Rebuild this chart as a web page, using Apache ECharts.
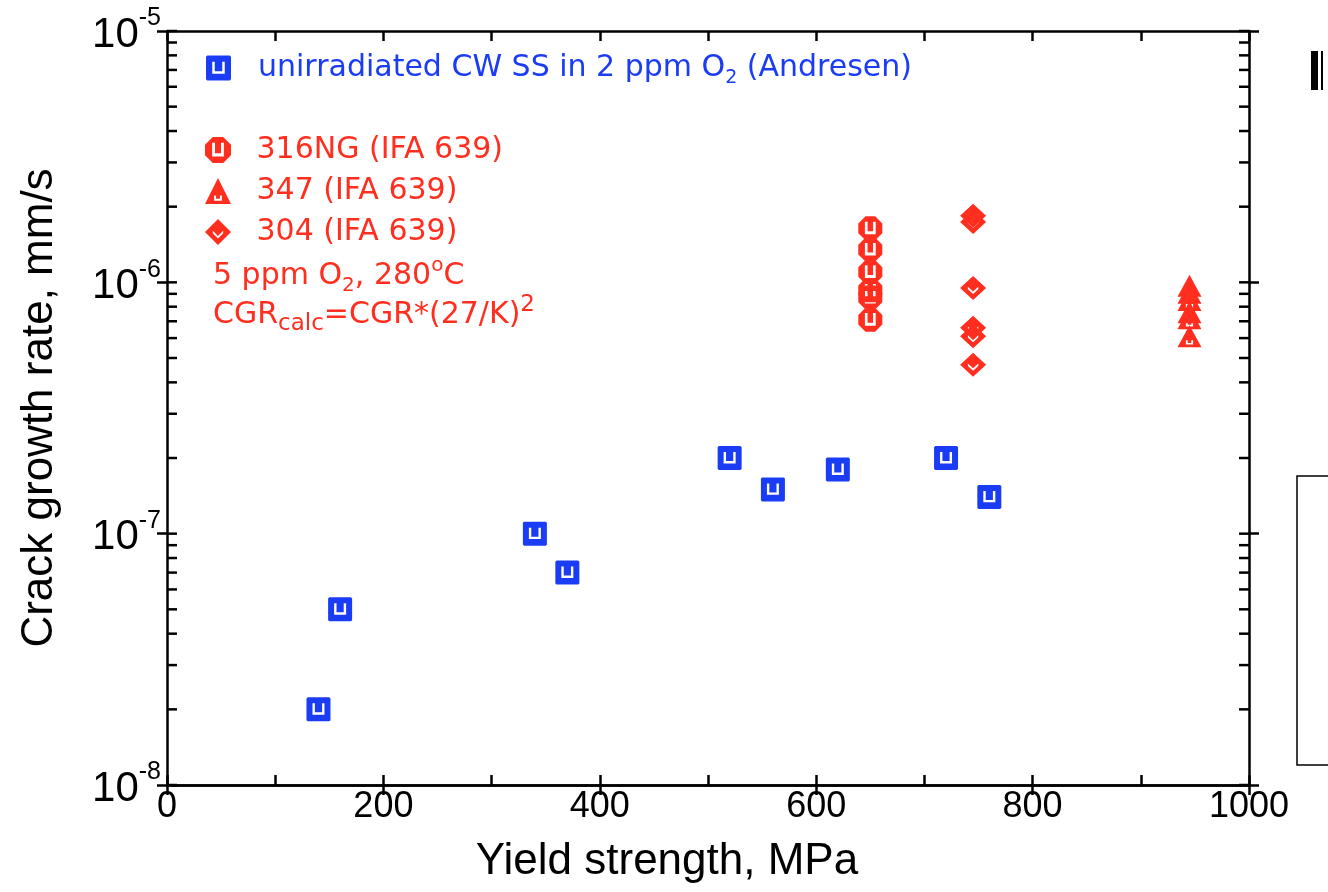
<!DOCTYPE html>
<html><head><meta charset="utf-8">
<script src="https://cdn.jsdelivr.net/npm/echarts@6/dist/echarts.min.js"></script>
<style>html,body{margin:0;padding:0;background:#fff}#c{width:1328px;height:892px}</style>
</head><body><div id="c"></div>
<script>
// ---------- data ----------
const seriesNames = ['unirradiated CW SS in 2 ppm O2 (Andresen)', '316NG (IFA 639)', '347 (IFA 639)', '304 (IFA 639)'];
const cwX = [140, 160, 340, 370, 520, 560, 620, 720, 760];
const cwY = [2.0e-8, 5.0e-8, 1.0e-7, 7.0e-8, 2.0e-7, 1.5e-7, 1.8e-7, 2.0e-7, 1.4e-7];
const ng316X = [650, 650, 650, 650, 650, 650];
const ng316Y = [1.64e-6, 1.35e-6, 1.10e-6, 9.3e-7, 8.7e-7, 7.1e-7];
const ss347X = [945, 945, 945, 945, 945, 945];
const ss347Y = [9.7e-7, 9.1e-7, 8.5e-7, 7.6e-7, 7.2e-7, 6.1e-7];
const ss304X = [745, 745, 745, 745, 745, 745];
const ss304Y = [1.84e-6, 1.74e-6, 9.5e-7, 6.6e-7, 6.1e-7, 4.7e-7];
const xMin = 0, xMax = 1000, xInterval = 200;
const yMin = 1e-8, yMax = 1e-5;
const yDecades = [1e-8, 1e-7, 1e-6, 1e-5];
const yMinorMultipliers = [2, 3, 4, 5, 6, 7, 8, 9];
const xTitle = 'Yield strength, MPa';
const yTitle = 'Crack growth rate, mm/s';

// ---------- styling ----------
const BLUE = '#1a3cf5', RED = '#ff2e1f';
const SQ_U = 'path://M1 0L19 0L20 1L20 19L19 20L1 20L0 19L0 1Z M5 5L5 14.5L15 14.5L15 5L13 5L13 12.5L7 12.5L7 5Z';
const OCT_U = 'path://M6 0L14 0L20 6L20 14L14 20L6 20L0 14L0 6Z M5.5 4.5L5.5 15L14.5 15L14.5 4.5L12.3 4.5L12.3 12.5L7.7 12.5L7.7 4.5Z';
const TRI_U = 'path://M10 0L20 20L0 20Z M7 13.5L7 17.5L13 17.5L13 13.5L11.5 13.5L11.5 16L8.5 16L8.5 13.5Z';
const DIA_V = 'path://M10 0L20 10L10 20L0 10Z M6 11L10 15L14 11L14 9L10 13L6 9Z';

const innerTickVals = [];
yDecades.forEach(d => { innerTickVals.push(d); if (d < yMax) yMinorMultipliers.forEach(m => innerTickVals.push(m * d)); });

const LW = 2.5;
const axLine = {onZero: false, lineStyle: {color: '#000', width: LW}};
const tickLS = {color: '#000', width: LW};
const labelFont = 'Liberation Sans';
const legFont = 'DejaVu Sans';

function xAx(extra) {
  return Object.assign({type: 'value', min: xMin, max: xMax, interval: xInterval, splitLine: {show: false},
    axisLine: axLine, axisLabel: {show: false}}, extra);
}
function yAx(extra) {
  return Object.assign({type: 'log', logBase: 10, min: yMin, max: yMax, splitLine: {show: false},
    axisLine: axLine, axisLabel: {show: false}}, extra);
}

const chart = echarts.init(document.getElementById('c'));
chart.setOption({
  animation: false,
  backgroundColor: '#fff',
  grid: {left: 167, right: 79, top: 31, bottom: 107},
  xAxis: [
    xAx({position: 'bottom', axisTick: {show: true, inside: false, length: 10, lineStyle: tickLS},
      axisLabel: {show: true, fontSize: 36, fontFamily: labelFont, color: '#000', margin: 4, showMinLabel: true, showMaxLabel: true,
        formatter: v => String(v)},
      name: xTitle, nameLocation: 'middle', nameGap: 55,
      nameTextStyle: {fontSize: 44, fontFamily: labelFont, color: '#000', padding: [0, 82, 0, 0]}}),
    xAx({position: 'bottom', axisTick: {show: true, inside: true, length: 10, lineStyle: tickLS},
      minorTick: {show: true, splitNumber: 2, length: 10, lineStyle: tickLS}}),
    xAx({position: 'top', axisTick: {show: true, inside: true, length: 10, lineStyle: tickLS},
      minorTick: {show: true, splitNumber: 2, length: 10, lineStyle: tickLS}})
  ],
  yAxis: [
    yAx({position: 'left', axisTick: {show: true, inside: false, length: 10, lineStyle: tickLS},
      axisLabel: {show: true, margin: 6, showMinLabel: true, showMaxLabel: true,
        formatter: v => '{b|10}{s|' + Math.round(Math.log10(v)) + '}',
        rich: {b: {fontSize: 42, fontFamily: labelFont, color: '#000', lineHeight: 50, verticalAlign: 'bottom'},
               s: {fontSize: 25, fontFamily: labelFont, color: '#000', lineHeight: 50, verticalAlign: 'top'}}},
      name: yTitle, nameLocation: 'middle', nameGap: 105,
      nameTextStyle: {fontSize: 44, fontFamily: labelFont, color: '#000'}}),
    yAx({position: 'right', axisTick: {show: true, inside: false, length: 10, lineStyle: tickLS}})
  ],
  legend: [
    {data: [seriesNames[0]], left: 206, top: 53, padding: 0, itemWidth: 25, itemHeight: 25, selectedMode: false,
     formatter: () => '{g|}{t|unirradiated CW SS in 2 ppm O}{s|2}{t| (Andresen)}',
     textStyle: {rich: {
       g: {width: 22},
       t: {fontSize: 30, fontFamily: legFont, color: BLUE, lineHeight: 40, verticalAlign: 'middle'},
       s: {fontSize: 19, fontFamily: legFont, color: BLUE, lineHeight: 40, verticalAlign: 'bottom'}}}},
    {data: seriesNames.slice(1), orient: 'vertical', left: 205, top: 135, padding: 0, itemGap: 11,
     itemWidth: 27, itemHeight: 26, selectedMode: false,
     formatter: n => '{g|}{t|' + n + '}',
     textStyle: {rich: {
       g: {width: 20},
       t: {fontSize: 30, fontFamily: legFont, color: RED, lineHeight: 30, verticalAlign: 'middle'}}}}
  ],
  graphic: [
    {type: 'text', z: 10, style: {x: 213, y: 276, verticalAlign: 'middle',
      text: '{t|5 ppm O}{s|2}{t|, 280}{p|o}{t|C}',
      rich: {t: {fontSize: 30, fontFamily: legFont, fill: RED, lineHeight: 40, verticalAlign: 'middle'},
             s: {fontSize: 20, fontFamily: legFont, fill: RED, lineHeight: 40, verticalAlign: 'bottom'},
             p: {fontSize: 20, fontFamily: legFont, fill: RED, lineHeight: 40, verticalAlign: 'top'}}}},
    {type: 'text', z: 10, style: {x: 213, y: 315, verticalAlign: 'middle',
      text: '{t|CGR}{s|calc}{t|=CGR*(27/K)}{p|2}',
      rich: {t: {fontSize: 30, fontFamily: legFont, fill: RED, lineHeight: 42, verticalAlign: 'middle'},
             s: {fontSize: 23, fontFamily: legFont, fill: RED, lineHeight: 42, verticalAlign: 'bottom'},
             p: {fontSize: 23, fontFamily: legFont, fill: RED, lineHeight: 42, verticalAlign: 'top'}}}},
    {type: 'rect', shape: {x: 1297, y: 476, width: 60, height: 289}, style: {fill: '#fff', stroke: '#000', lineWidth: 1.5}},
    {type: 'rect', shape: {x: 1311, y: 51, width: 7, height: 39}, style: {fill: '#000'}},
    {type: 'rect', shape: {x: 1321, y: 51, width: 2, height: 39}, style: {fill: '#000'}}
  ],
  series: [
    {name: 'innerTicks', type: 'custom', silent: true, clip: false, z: 5, xAxisIndex: 0, yAxisIndex: 0,
     data: innerTickVals.map(v => [xMin, v]),
     renderItem: (params, api) => {
       const v = api.value(1);
       const pL = api.coord([xMin, v]);
       const pR = api.coord([xMax, v]);
       return {type: 'group', children: [
         {type: 'line', shape: {x1: pL[0], y1: pL[1], x2: pL[0] + 10, y2: pL[1]}, style: {stroke: '#000', lineWidth: LW}},
         {type: 'line', shape: {x1: pR[0] - 10, y1: pR[1], x2: pR[0], y2: pR[1]}, style: {stroke: '#000', lineWidth: LW}}
       ]};
     }},
    {name: seriesNames[0], type: 'scatter', symbol: SQ_U, symbolSize: 24, itemStyle: {color: BLUE, opacity: 1},
     data: cwX.map((x, i) => [x, cwY[i]]), emphasis: {disabled: true}},
    {name: seriesNames[1], type: 'scatter', symbol: OCT_U, symbolSize: 24, itemStyle: {color: RED, opacity: 1},
     data: ng316X.map((x, i) => [x, ng316Y[i]]), emphasis: {disabled: true}},
    {name: seriesNames[2], type: 'scatter', symbol: TRI_U, symbolSize: [24, 22], itemStyle: {color: RED, opacity: 1},
     data: ss347X.map((x, i) => [x, ss347Y[i]]), emphasis: {disabled: true}},
    {name: seriesNames[3], type: 'scatter', symbol: DIA_V, symbolSize: [26, 24], itemStyle: {color: RED, opacity: 1},
     data: ss304X.map((x, i) => [x, ss304Y[i]]), emphasis: {disabled: true}}
  ]
});
</script></body></html>
